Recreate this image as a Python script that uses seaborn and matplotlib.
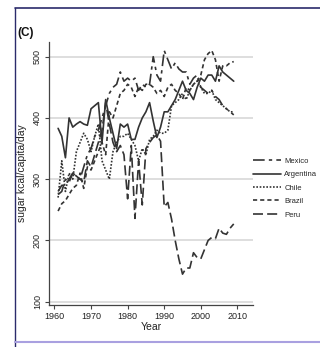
import numpy as np
import pandas as pd
import seaborn as sns
import matplotlib
matplotlib.use("Agg")
import matplotlib.pyplot as plt
from matplotlib.lines import Line2D

years = list(range(1961, 2010))

mexico = [275, 280, 300, 295, 310, 305, 300, 320, 340, 350,
          370, 380, 400, 420, 440, 450, 455, 475, 460, 465,
          460, 465, 445, 455, 450, 455, 500, 470, 460, 510,
          495, 480, 490, 480, 475, 475, 455, 465, 470, 450,
          445, 440, 445, 435, 430, 420, 415, 410, 405]
argentina = [383, 370, 335, 400, 385, 390, 394, 390, 388, 415,
             420, 425, 360, 430, 400, 375, 350, 390, 385, 390,
             365, 365, 385, 400, 410, 425, 395, 368, 385, 410,
             410, 420, 430, 445, 460, 445, 440, 430, 450, 465,
             460, 470, 470, 460, 485, 475, 470, 465, 460]
chile = [270, 330, 280, 310, 300, 345, 360, 375, 365, 345,
         370, 390, 330, 315, 300, 345, 360, 370, 370, 375,
         365, 355, 330, 350, 340, 365, 370, 380, 375, 375,
         380, 420, 425, 430, 440, 430, 445, 455, 460, 450,
         440, 440, 445, 430, 425, 420, 415, 410, 410]
brazil = [248, 260, 265, 275, 285, 290, 310, 285, 320, 315,
          330, 345, 360, 340, 410, 400, 420, 440, 445, 455,
          450, 435, 450, 445, 455, 455, 450, 440, 445, 435,
          450, 455, 445, 440, 430, 450, 445, 455, 460, 470,
          495, 505, 510, 495, 460, 485, 485, 490, 492]
peru = [280, 290, 290, 300, 310, 305, 300, 295, 330, 320,
        340, 360, 380, 425, 390, 360, 345, 355, 340, 268,
        355, 236, 330, 258, 350, 360, 368, 372, 362, 255,
        262, 235, 200, 170, 145, 155, 155, 180, 172, 170,
        185, 200, 205, 203, 220, 212, 210, 220, 227]

countries = ["Mexico", "Argentina", "Chile", "Brazil", "Peru"]
series = [mexico, argentina, chile, brazil, peru]

df = pd.concat([pd.DataFrame({"Year": years, "value": v, "country": c})
                for c, v in zip(countries, series)], ignore_index=True)

sns.set_style("white")
plt.rcParams["font.family"] = ["Liberation Sans Narrow", "Liberation Sans", "DejaVu Sans"]

fig = plt.figure(figsize=(3.2, 3.47), dpi=100)
ax = fig.add_axes([0.153, 0.121, 0.638, 0.758])

dashes = {"Mexico": (7, 2.5, 2, 2.5), "Argentina": "",
          "Chile": (1, 1), "Brazil": (2.5, 1.8), "Peru": (6, 2.5)}
palette = {c: "#333333" for c in countries}

sns.lineplot(data=df, x="Year", y="value", hue="country", style="country",
             hue_order=countries, style_order=countries,
             palette=palette, dashes=dashes, linewidth=1.2, ax=ax)

ax.set_xlim(1958.5, 2014.3)
ax.set_ylim(94.6, 524)
ax.set_xticks([1960, 1970, 1980, 1990, 2000, 2010])
ax.set_yticks([100, 200, 300, 400, 500])
for yv in [100, 200, 300, 400, 500]:
    ax.axhline(yv, color="#d4d4d4", lw=1.1, zorder=0)
ax.grid(False)
for s in ["top", "right"]:
    ax.spines[s].set_visible(False)
for s in ["left", "bottom"]:
    ax.spines[s].set_color("#444444")
    ax.spines[s].set_linewidth(0.9)
ax.tick_params(axis="both", which="major", length=3, width=0.8, color="#444444",
               labelsize=6.5, pad=2, bottom=True, left=True, labelcolor="#222222")
for lbl in ax.get_yticklabels():
    lbl.set_rotation(90)
    lbl.set_va("center")
ax.set_xlabel("Year", fontsize=7.5, labelpad=1, color="#222222")
ax.set_ylabel("sugar kcal/capita/day", fontsize=7.5, labelpad=4, color="#222222")

sns.move_legend(ax, loc="center left", bbox_to_anchor=(1.0, 0.445), frameon=False,
                title=None, fontsize=5.5, handlelength=3.7, handletextpad=0.4,
                labelspacing=0.8, borderaxespad=0.0, borderpad=0.0)

fig.text(0.053, 0.895, "(C)", fontsize=8.5, fontweight="bold", color="#111111")

# frame of the reference picture
fig.add_artist(Line2D([0.047, 1.0], [0.977, 0.977], transform=fig.transFigure,
                      color="#2b2b6b", lw=1.2))
fig.add_artist(Line2D([0.047, 0.047], [0.0, 0.977], transform=fig.transFigure,
                      color="#2b2b6b", lw=1.0))
fig.add_artist(Line2D([0.047, 1.0], [0.015, 0.015], transform=fig.transFigure,
                      color="#a9a0e0", lw=1.5))

fig.savefig("out.png", dpi=100)
